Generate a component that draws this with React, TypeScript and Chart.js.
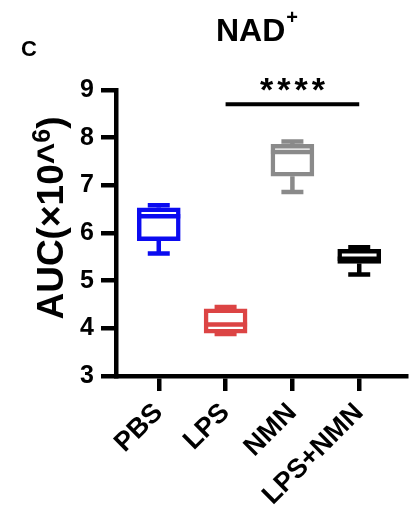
import React, { useEffect, useRef } from 'react';
import { Chart, registerables } from 'chart.js';

Chart.register(...registerables);

// groups and box-plot values (AUC x10^6)
const GROUPS = ['PBS', 'LPS', 'NMN', 'LPS+NMN'];
const COLORS = ['#0b0bf0', '#dc4444', '#8a8a8a', '#000000'];
const MINS = [5.57, 3.88, 6.86, 5.13];
const Q1S = [5.84, 3.9, 7.19, 5.36];
const MEDIANS = [6.35, 4.08, 7.7, 5.46];
const Q3S = [6.53, 4.41, 7.86, 5.66];
const MAXS = [6.58, 4.45, 7.92, 5.7];

// significance bracket between LPS and LPS+NMN
const SIG_FROM = 1;
const SIG_TO = 3;
const SIG_Y = 8.7;
const SIG_LABEL = '****';

const FONT = '"Liberation Sans", Arial, sans-serif';
const LW = 4.5;

const boxParts = {
  id: 'boxParts',
  afterDatasetsDraw(chart: any) {
    const { ctx, scales } = chart;
    const x = scales.x;
    const y = scales.y;
    ctx.save();
    ctx.lineWidth = LW;
    ctx.lineCap = 'butt';
    GROUPS.forEach((_, i) => {
      const cx = x.getPixelForValue(i);
      const yMax = y.getPixelForValue(MAXS[i]);
      const yMin = y.getPixelForValue(MINS[i]);
      const yQ1 = y.getPixelForValue(Q1S[i]);
      const yQ3 = y.getPixelForValue(Q3S[i]);
      const yMed = y.getPixelForValue(MEDIANS[i]);
      ctx.strokeStyle = COLORS[i];
      ctx.beginPath();
      ctx.moveTo(cx, yQ3);
      ctx.lineTo(cx, yMax);
      ctx.moveTo(cx - 11, yMax);
      ctx.lineTo(cx + 11, yMax);
      ctx.moveTo(cx, yQ1);
      ctx.lineTo(cx, yMin);
      ctx.moveTo(cx - 11, yMin);
      ctx.lineTo(cx + 11, yMin);
      ctx.moveTo(cx - 21.5, yMed);
      ctx.lineTo(cx + 21.5, yMed);
      ctx.stroke();
    });
    ctx.restore();
  },
};

const annotations = {
  id: 'annotations',
  afterDraw(chart: any) {
    const { ctx, scales } = chart;
    const x = scales.x;
    const y = scales.y;
    ctx.save();
    ctx.fillStyle = '#000';
    ctx.textBaseline = 'alphabetic';

    // panel letter
    ctx.font = `bold 22px ${FONT}`;
    ctx.textAlign = 'left';
    ctx.fillText('C', 21, 56);

    // title NAD+
    ctx.font = `bold 32px ${FONT}`;
    ctx.fillText('NAD', 216, 41);
    const nadW = ctx.measureText('NAD').width;
    ctx.font = `bold 20px ${FONT}`;
    ctx.fillText('+', 216 + nadW + 1, 24);

    // y axis title, rotated
    ctx.save();
    ctx.translate(63, 218);
    ctx.rotate(-Math.PI / 2);
    const main = 'AUC(×10^';
    ctx.font = `bold 37px ${FONT}`;
    const w1 = ctx.measureText(main).width;
    const w3 = ctx.measureText(')').width;
    ctx.font = `bold 25px ${FONT}`;
    const w2 = ctx.measureText('6').width;
    let px = -(w1 + w2 + w3) / 2;
    ctx.font = `bold 37px ${FONT}`;
    ctx.fillText(main, px, 0);
    px += w1;
    ctx.font = `bold 25px ${FONT}`;
    ctx.fillText('6', px, -13);
    px += w2;
    ctx.font = `bold 37px ${FONT}`;
    ctx.fillText(')', px, 0);
    ctx.restore();

    // significance bar and stars
    const x1 = x.getPixelForValue(SIG_FROM);
    const x2 = x.getPixelForValue(SIG_TO);
    const sy = y.getPixelForValue(SIG_Y);
    ctx.strokeStyle = '#000';
    ctx.lineWidth = 4;
    ctx.beginPath();
    ctx.moveTo(x1, sy);
    ctx.lineTo(x2, sy);
    ctx.stroke();
    ctx.font = `bold 34px ${FONT}`;
    ctx.textAlign = 'left';
    const gap = 4;
    const starW = ctx.measureText('*').width;
    const total = SIG_LABEL.length * starW + (SIG_LABEL.length - 1) * gap;
    let sx = (x1 + x2) / 2 - total / 2;
    for (const ch of SIG_LABEL) {
      ctx.fillText(ch, sx, sy - 3);
      sx += starW + gap;
    }
    ctx.restore();
  },
};

export default function App() {
  const canvasRef = useRef<HTMLCanvasElement>(null);
  const chartRef = useRef<Chart | null>(null);

  useEffect(() => {
    if (chartRef.current) chartRef.current.destroy();
    if (!canvasRef.current) return;
    const ctx = canvasRef.current.getContext('2d');
    if (!ctx) return;

    chartRef.current = new Chart(ctx, {
      type: 'bar',
      data: {
        datasets: [
          {
            data: GROUPS.map((_, i) => ({ x: i, y: [Q1S[i], Q3S[i]] })) as any,
            backgroundColor: '#ffffff',
            borderColor: COLORS,
            borderWidth: LW,
            borderSkipped: false,
            barThickness: 43,
          },
        ],
      },
      options: {
        animation: false,
        responsive: true,
        maintainAspectRatio: false,
        layout: { padding: { top: 90, right: 13, left: 0, bottom: 0 } },
        plugins: {
          legend: { display: false },
          tooltip: { enabled: false },
        },
        scales: {
          x: {
            type: 'linear',
            offset: false,
            min: -0.64,
            max: 3.7,
            afterBuildTicks: (s: any) => {
              s.ticks = GROUPS.map((_, i) => ({ value: i }));
            },
            afterFit: (s: any) => {
              s.height = 148;
            },
            ticks: {
              autoSkip: false,
              minRotation: 45,
              maxRotation: 45,
              padding: 6,
              color: '#000',
              font: { family: FONT, size: 27, weight: 'bold' },
              callback: (v: any) => GROUPS[v] ?? '',
            },
            grid: { offset: false, drawOnChartArea: false, tickLength: 15, lineWidth: LW, color: '#000' },
            border: { width: LW, color: '#000' },
          },
          y: {
            type: 'linear',
            min: 3,
            max: 9,
            afterFit: (s: any) => {
              s.width = 116;
            },
            ticks: {
              stepSize: 1,
              padding: 7,
              color: '#000',
              font: { family: FONT, size: 25, weight: 'bold' },
            },
            grid: { drawOnChartArea: false, tickLength: 15, lineWidth: LW, color: '#000' },
            border: { width: LW, color: '#000' },
          },
        },
      },
      plugins: [boxParts, annotations],
    });

    return () => {
      if (chartRef.current) {
        chartRef.current.destroy();
        chartRef.current = null;
      }
    };
  }, []);

  return (
    <div style={{ position: 'fixed', left: 0, top: 0, width: '419px', height: '524px', background: '#fff' }}>
      <canvas ref={canvasRef}></canvas>
    </div>
  );
}
